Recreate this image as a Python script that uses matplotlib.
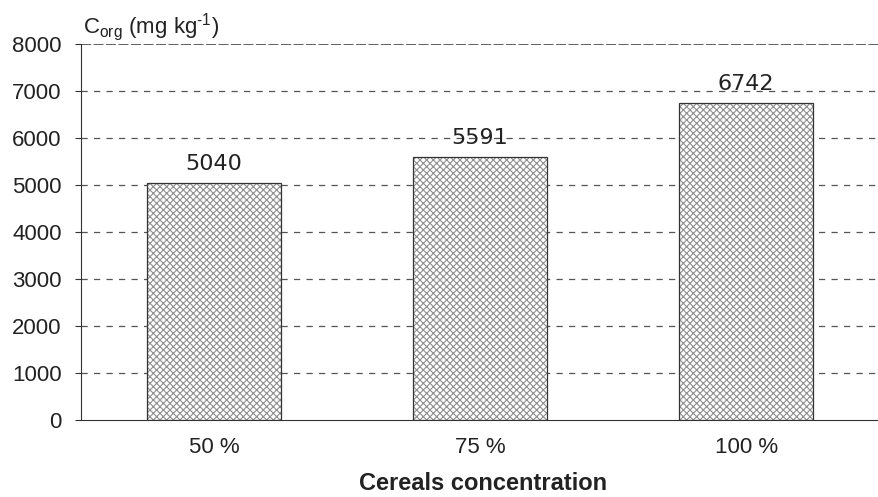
# Bar chart of organic carbon content by cereals concentration

import matplotlib.pyplot as plt

# Data (mg/kg)
categories = ["50 %", "75 %", "100 %"]
values = [5040, 5591, 6742]
yticks = [0, 1000, 2000, 3000, 4000, 5000, 6000, 7000, 8000]

plt.rcParams['font.family'] = ['Liberation Sans', 'DejaVu Sans']
plt.rcParams['mathtext.fontset'] = 'custom'
plt.rcParams['mathtext.rm'] = 'Liberation Sans'
plt.rcParams['hatch.linewidth'] = 0.8

fig = plt.figure(figsize=(8.79, 4.97), dpi=100)
ax = fig.add_axes([0.0922, 0.155, 0.908, 0.7565])

x = range(len(categories))

# gridlines
for v in yticks[1:-1]:
    ax.axhline(v, color='#555555', lw=0.9, ls=(0, (5, 5)), zorder=0)
ax.axhline(yticks[-1], color='#444444', lw=1.2, ls=(0, (6, 1.5)), zorder=0)

# hatched bars, then the outline on top
ax.bar(x, values, width=0.505, color='white', edgecolor='#8f8f8f',
       hatch='xxxxx', linewidth=0, zorder=2)
ax.bar(x, values, width=0.505, fill=False, edgecolor='#333333',
       linewidth=0.9, zorder=3)

# value labels
for i, v in enumerate(values):
    ax.text(i, v + 190, str(v), ha='center', va='bottom', fontsize=16,
            family='DejaVu Sans', color='#222222', zorder=4)

ax.set_xlim(-0.5, 2.5)
ax.set_ylim(0, 8000)
ax.set_yticks(yticks)
ax.set_xticks(list(x))
ax.set_xticklabels(categories)

ax.tick_params(axis='y', labelsize=16, length=4, width=0.8,
               colors='#333333', labelcolor='#222222', pad=10)
ax.tick_params(axis='x', labelsize=16, length=0, pad=12, labelcolor='#222222')

for s in ['top', 'right']:
    ax.spines[s].set_visible(False)
ax.spines['left'].set_color('#333333')
ax.spines['bottom'].set_color('#333333')

fig.text(0.5495, 0.014, "Cereals concentration", fontsize=17, fontweight='bold',
         color='#222222', ha='center', va='baseline')
fig.text(0.094, 0.934, r'C$_{\rm org}$ (mg kg$^{\text{-1}}$)', fontsize=16,
         color='#222222', ha='left', va='baseline')

plt.savefig("out.png", dpi=100)
